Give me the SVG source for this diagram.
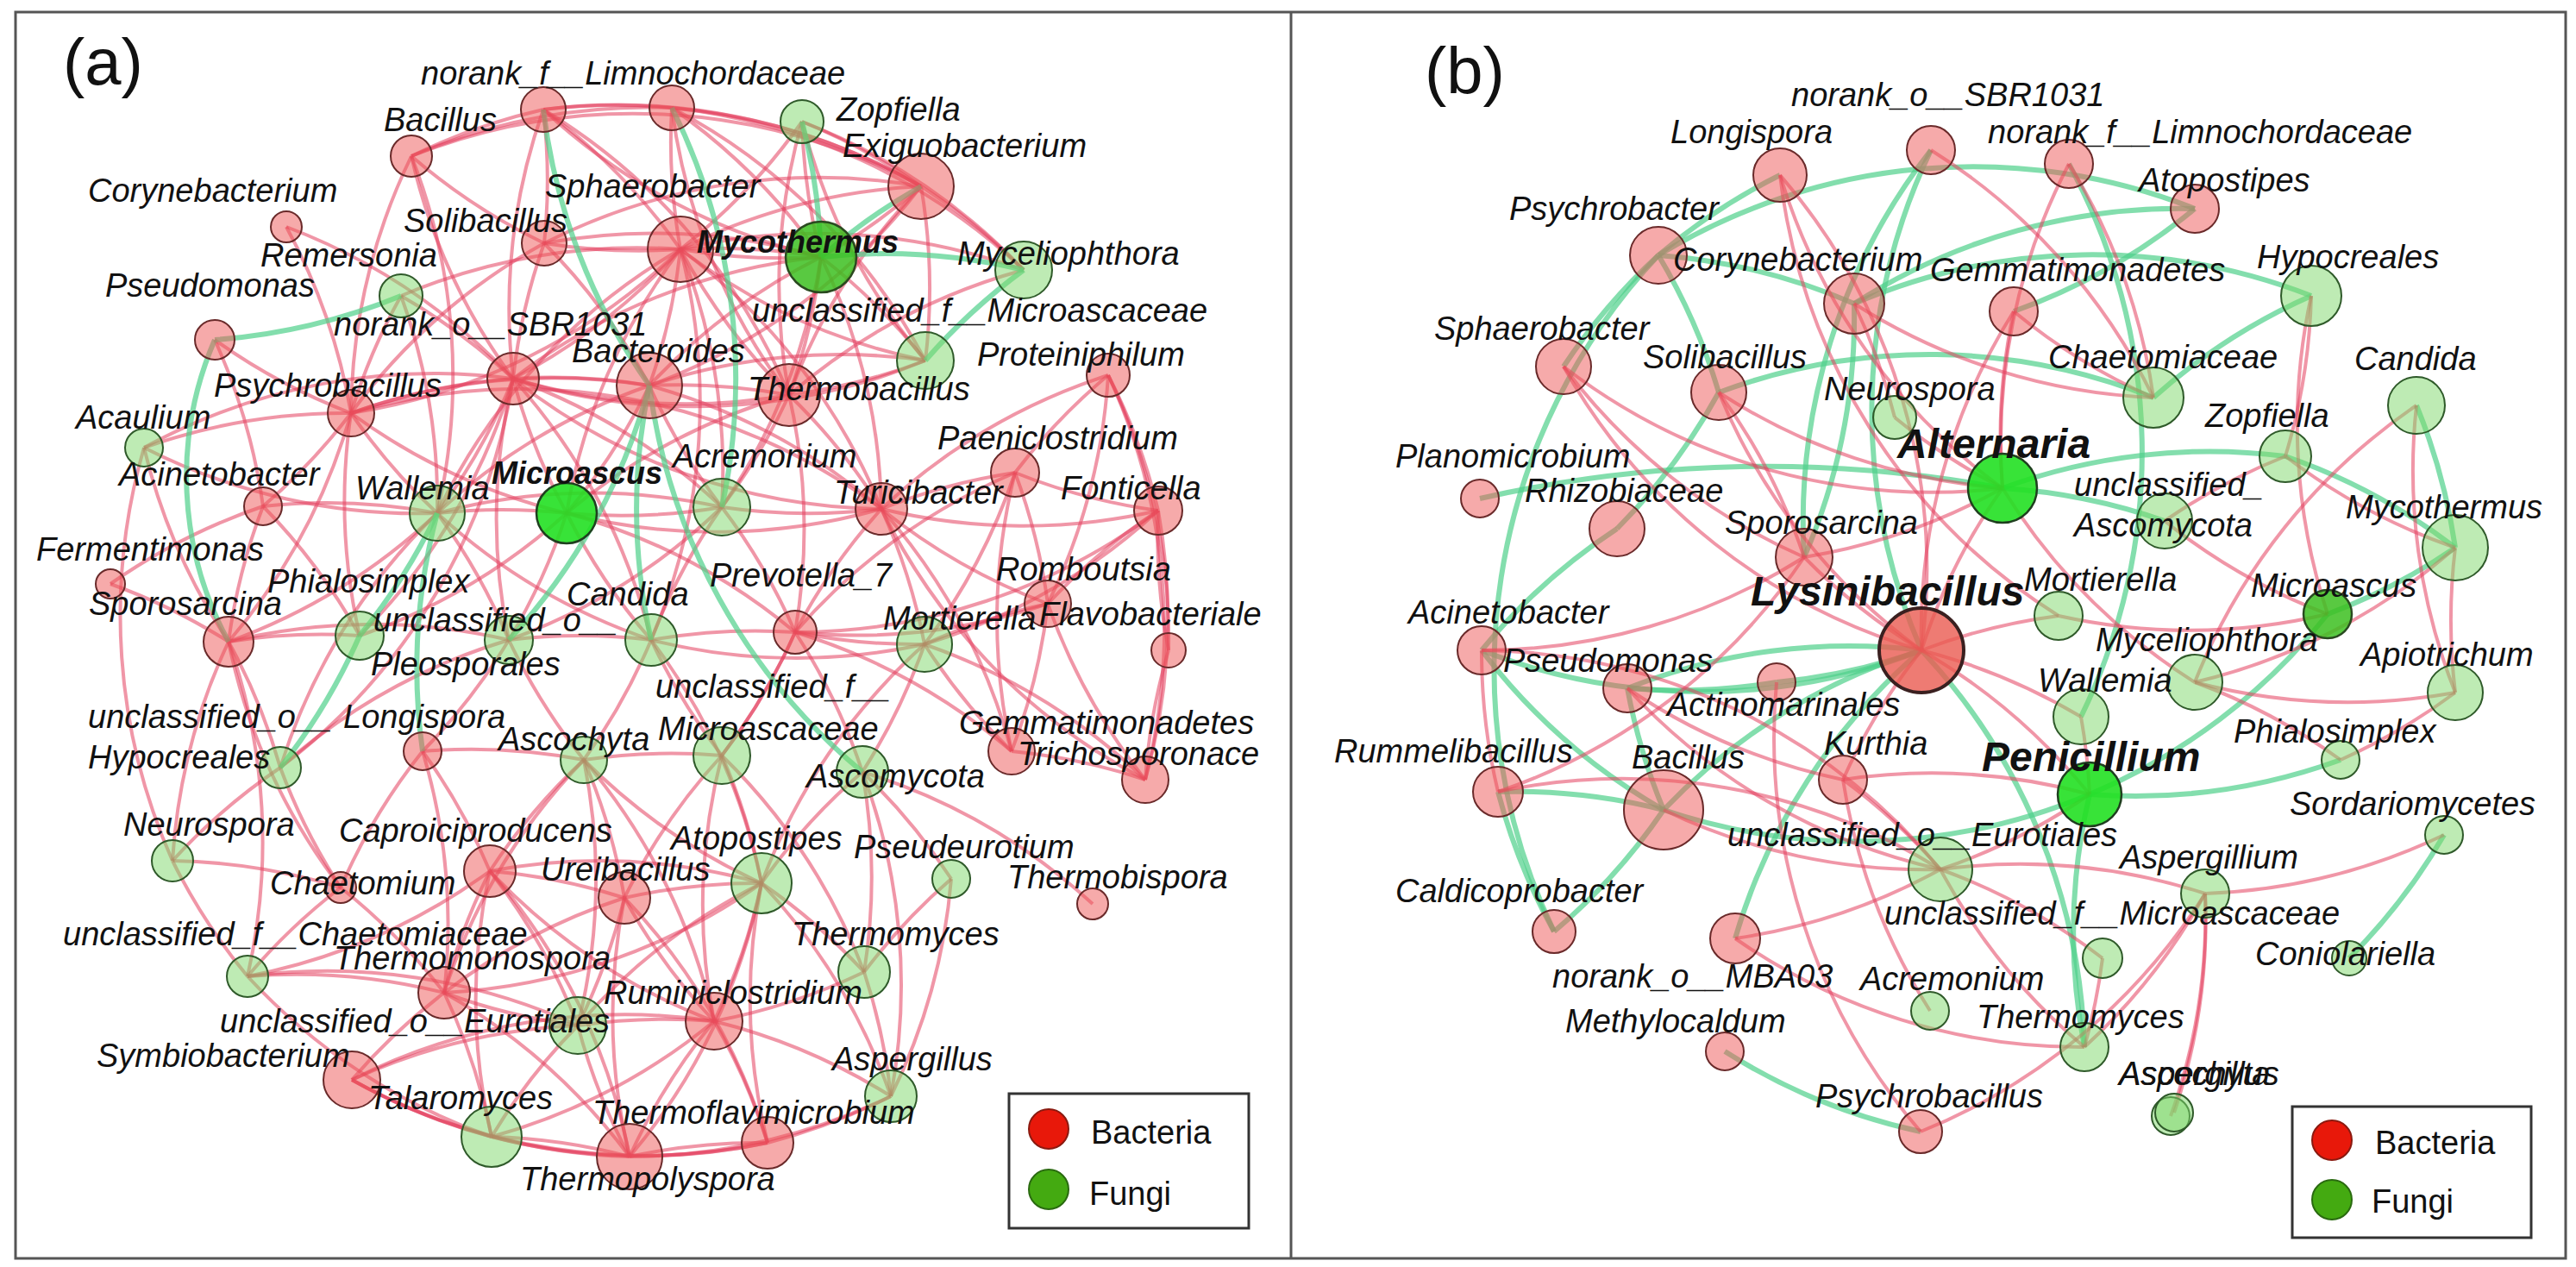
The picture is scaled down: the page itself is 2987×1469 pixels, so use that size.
<svg xmlns="http://www.w3.org/2000/svg" width="2987" height="1469" viewBox="0 0 2987 1469">
<style>
.r{fill:none;stroke:#e3405f;stroke-opacity:.55;stroke-width:4}
.g{fill:none;stroke:#4fd08a;stroke-opacity:.7;stroke-width:6}
.nb{fill:#ee5555;fill-opacity:.5;stroke:#6a2a2a;stroke-width:2}
.nf{fill:#7dd86a;fill-opacity:.5;stroke:#2f5a2a;stroke-width:2}
.nd{fill:#3cc020;fill-opacity:.85;stroke:#2a4a20;stroke-width:2.5}
.ns{fill:#22e022;fill-opacity:.9;stroke:#1f3f1f;stroke-width:2.5}
.nl{fill:#ea5a50;fill-opacity:.8;stroke:#3a2020;stroke-width:4}
text{font-family:"Liberation Sans",Arial,sans-serif;fill:#111}
.t{font-size:38px;font-style:italic}
.tb{font-size:36px;font-style:italic;font-weight:bold}
.tB{font-size:48px;font-style:italic;font-weight:bold}
.tl{font-size:38px}
.tp{font-size:76px}
</style>
<rect x="0" y="0" width="2987" height="1469" fill="#fff"/>
<g id="frame" fill="none" stroke="#555" stroke-width="3">
<rect x="18" y="14" width="2957" height="1445"/>
<line x1="1497" y1="14" x2="1497" y2="1459"/>
</g>
<text class="tp" x="73" y="98">(a)</text>
<text class="tp" x="1652" y="108">(b)</text>
<g id="connectors">
<g id="edges-a">
<path class="r" d="M477 181A700 700 0 0 1 630 127"/>
<path class="r" d="M477 181A700 700 0 0 1 779 125"/>
<path class="r" d="M477 181A700 700 0 0 1 1068 216"/>
<path class="r" d="M477 181A700 700 0 0 0 631 282"/>
<path class="r" d="M477 181A700 700 0 0 0 595 439"/>
<path class="r" d="M477 181A700 700 0 0 0 407 479"/>
<path class="r" d="M477 181A700 700 0 0 1 507 595"/>
<path class="r" d="M332 263A700 700 0 0 1 407 479"/>
<path class="r" d="M332 263A700 700 0 0 1 595 439"/>
<path class="r" d="M249 394A700 700 0 0 1 305 587"/>
<path class="r" d="M249 394A700 700 0 0 0 407 479"/>
<path class="r" d="M465 343A700 700 0 0 0 407 479"/>
<path class="r" d="M465 343A700 700 0 0 1 507 595"/>
<path class="r" d="M465 343A700 700 0 0 1 595 439"/>
<path class="r" d="M465 343A700 700 0 0 1 789 289"/>
<path class="r" d="M407 479A700 700 0 0 0 167 519"/>
<path class="r" d="M407 479A700 700 0 0 1 305 587"/>
<path class="r" d="M407 479A700 700 0 0 0 507 595"/>
<path class="r" d="M407 479A700 700 0 0 1 595 439"/>
<path class="r" d="M407 479A700 700 0 0 0 657 595"/>
<path class="r" d="M407 479A700 700 0 0 1 265 744"/>
<path class="r" d="M407 479A700 700 0 0 0 417 737"/>
<path class="r" d="M407 479A700 700 0 0 1 1022 590"/>
<path class="r" d="M407 479A700 700 0 0 1 753 447"/>
<path class="r" d="M167 519A700 700 0 0 1 595 439"/>
<path class="r" d="M167 519A700 700 0 0 0 200 998"/>
<path class="r" d="M167 519A700 700 0 0 0 265 744"/>
<path class="r" d="M305 587A700 700 0 0 1 507 595"/>
<path class="r" d="M305 587A700 700 0 0 0 265 744"/>
<path class="r" d="M305 587A700 700 0 0 1 417 737"/>
<path class="r" d="M305 587A700 700 0 0 0 128 677"/>
<path class="r" d="M128 677A700 700 0 0 1 265 744"/>
<path class="r" d="M265 744A700 700 0 0 1 417 737"/>
<path class="r" d="M265 744A700 700 0 0 0 507 595"/>
<path class="r" d="M265 744A700 700 0 0 1 325 890"/>
<path class="r" d="M265 744A700 700 0 0 0 395 1029"/>
<path class="r" d="M265 744A700 700 0 0 0 200 998"/>
<path class="r" d="M265 744A700 700 0 0 1 287 1132"/>
<path class="r" d="M265 744A700 700 0 0 1 590 742"/>
<path class="r" d="M325 890A700 700 0 0 1 507 595"/>
<path class="r" d="M325 890A700 700 0 0 0 595 439"/>
<path class="r" d="M325 890A700 700 0 0 0 395 1029"/>
<path class="r" d="M200 998A700 700 0 0 1 325 890"/>
<path class="r" d="M200 998A700 700 0 0 1 395 1029"/>
<path class="r" d="M200 998A700 700 0 0 0 287 1132"/>
<path class="r" d="M287 1132A700 700 0 0 1 515 1151"/>
<path class="r" d="M287 1132A700 700 0 0 0 568 1010"/>
<path class="r" d="M408 1252A700 700 0 0 1 515 1151"/>
<path class="r" d="M408 1252A700 700 0 0 0 570 1318"/>
<path class="r" d="M408 1252A700 700 0 0 0 730 1341"/>
<path class="r" d="M408 1252A700 700 0 0 0 890 1325"/>
<path class="r" d="M408 1252A700 700 0 0 1 670 1189"/>
<path class="r" d="M408 1252A700 700 0 0 1 828 1184"/>
<path class="r" d="M677 881A700 700 0 0 0 568 1010"/>
<path class="r" d="M677 881A700 700 0 0 1 724 1041"/>
<path class="r" d="M677 881A700 700 0 0 0 515 1151"/>
<path class="r" d="M677 881A700 700 0 0 1 670 1189"/>
<path class="r" d="M677 881A700 700 0 0 0 490 871"/>
<path class="r" d="M677 881A700 700 0 0 1 837 876"/>
<path class="r" d="M677 881A700 700 0 0 1 828 1184"/>
<path class="r" d="M837 876A700 700 0 0 1 883 1024"/>
<path class="r" d="M837 876A700 700 0 0 0 828 1184"/>
<path class="r" d="M837 876A700 700 0 0 1 1002 1127"/>
<path class="r" d="M837 876A700 700 0 0 0 724 1041"/>
<path class="r" d="M837 876A700 700 0 0 0 922 733"/>
<path class="r" d="M568 1010A700 700 0 0 1 724 1041"/>
<path class="r" d="M568 1010A700 700 0 0 0 515 1151"/>
<path class="r" d="M568 1010A700 700 0 0 1 670 1189"/>
<path class="r" d="M568 1010A700 700 0 0 1 883 1024"/>
<path class="r" d="M568 1010A700 700 0 0 0 570 1318"/>
<path class="r" d="M568 1010A700 700 0 0 0 828 1184"/>
<path class="r" d="M568 1010A700 700 0 0 1 730 1341"/>
<path class="r" d="M724 1041A700 700 0 0 1 883 1024"/>
<path class="r" d="M724 1041A700 700 0 0 0 828 1184"/>
<path class="r" d="M724 1041A700 700 0 0 1 670 1189"/>
<path class="r" d="M724 1041A700 700 0 0 0 730 1341"/>
<path class="r" d="M724 1041A700 700 0 0 1 890 1325"/>
<path class="r" d="M724 1041A700 700 0 0 0 515 1151"/>
<path class="r" d="M883 1024A700 700 0 0 1 828 1184"/>
<path class="r" d="M883 1024A700 700 0 0 1 730 1341"/>
<path class="r" d="M883 1024A700 700 0 0 0 890 1325"/>
<path class="r" d="M883 1024A700 700 0 0 1 1002 1127"/>
<path class="r" d="M883 1024A700 700 0 0 0 670 1189"/>
<path class="r" d="M883 1024A700 700 0 0 1 1033 1271"/>
<path class="r" d="M883 1024A700 700 0 0 1 515 1151"/>
<path class="r" d="M828 1184A700 700 0 0 0 730 1341"/>
<path class="r" d="M828 1184A700 700 0 0 1 890 1325"/>
<path class="r" d="M828 1184A700 700 0 0 1 570 1318"/>
<path class="r" d="M828 1184A700 700 0 0 0 670 1189"/>
<path class="r" d="M828 1184A700 700 0 0 1 1033 1271"/>
<path class="r" d="M828 1184A700 700 0 0 0 1002 1127"/>
<path class="r" d="M730 1341A700 700 0 0 0 570 1318"/>
<path class="r" d="M730 1341A700 700 0 0 1 890 1325"/>
<path class="r" d="M730 1341A700 700 0 0 1 670 1189"/>
<path class="r" d="M730 1341A700 700 0 0 0 515 1151"/>
<path class="r" d="M570 1318A700 700 0 0 1 670 1189"/>
<path class="r" d="M570 1318A700 700 0 0 0 515 1151"/>
<path class="r" d="M570 1318A700 700 0 0 0 890 1325"/>
<path class="r" d="M1002 1127A700 700 0 0 1 1033 1271"/>
<path class="r" d="M1002 1127A700 700 0 0 0 1000 895"/>
<path class="r" d="M1033 1271A700 700 0 0 0 1000 895"/>
<path class="r" d="M1002 1127A700 700 0 0 1 1103 1019"/>
<path class="r" d="M1033 1271A700 700 0 0 0 1103 1019"/>
<path class="r" d="M1000 895A700 700 0 0 1 1267 1048"/>
<path class="r" d="M1000 895A700 700 0 0 1 1103 1019"/>
<path class="r" d="M1173 871A700 700 0 0 1 1328 904"/>
<path class="r" d="M1173 871A700 700 0 0 0 1215 700"/>
<path class="r" d="M1328 904A700 700 0 0 1 1215 700"/>
<path class="r" d="M1328 904A700 700 0 0 0 1343 592"/>
<path class="r" d="M1173 871A700 700 0 0 0 1022 590"/>
<path class="r" d="M1328 904A700 700 0 0 1 1022 590"/>
<path class="r" d="M1173 871A700 700 0 0 1 1177 548"/>
<path class="r" d="M1328 904A700 700 0 0 0 1285 435"/>
<path class="r" d="M1173 871A700 700 0 0 1 1072 747"/>
<path class="r" d="M1173 871A700 700 0 0 0 922 733"/>
<path class="r" d="M1355 754A700 700 0 0 0 1328 904"/>
<path class="r" d="M1285 435A700 700 0 0 0 1177 548"/>
<path class="r" d="M1285 435A700 700 0 0 1 1343 592"/>
<path class="r" d="M1285 435A700 700 0 0 1 1215 700"/>
<path class="r" d="M1285 435A700 700 0 0 0 1022 590"/>
<path class="r" d="M1285 435A700 700 0 0 1 1355 754"/>
<path class="r" d="M1177 548A700 700 0 0 0 1022 590"/>
<path class="r" d="M1177 548A700 700 0 0 0 1343 592"/>
<path class="r" d="M1177 548A700 700 0 0 1 1215 700"/>
<path class="r" d="M1177 548A700 700 0 0 0 922 733"/>
<path class="r" d="M1177 548A700 700 0 0 1 1072 747"/>
<path class="r" d="M1343 592A700 700 0 0 1 1022 590"/>
<path class="r" d="M1343 592A700 700 0 0 0 1215 700"/>
<path class="r" d="M1343 592A700 700 0 0 1 922 733"/>
<path class="r" d="M1343 592A700 700 0 0 0 1355 754"/>
<path class="r" d="M1215 700A700 700 0 0 1 1022 590"/>
<path class="r" d="M1215 700A700 700 0 0 1 922 733"/>
<path class="r" d="M1215 700A700 700 0 0 0 1072 747"/>
<path class="r" d="M1022 590A700 700 0 0 0 922 733"/>
<path class="r" d="M1022 590A700 700 0 0 1 1072 747"/>
<path class="r" d="M1022 590A700 700 0 0 0 915 458"/>
<path class="r" d="M1022 590A700 700 0 0 1 837 588"/>
<path class="r" d="M1022 590A700 700 0 0 0 789 289"/>
<path class="r" d="M1068 216A700 700 0 0 1 952 298"/>
<path class="r" d="M1068 216A700 700 0 0 0 789 289"/>
<path class="r" d="M1068 216A700 700 0 0 0 930 141"/>
<path class="r" d="M1068 216A700 700 0 0 1 1187 313"/>
<path class="r" d="M1068 216A700 700 0 0 1 1073 418"/>
<path class="r" d="M1068 216A700 700 0 0 0 915 458"/>
<path class="r" d="M1068 216A700 700 0 0 0 779 125"/>
<path class="r" d="M1068 216A700 700 0 0 0 630 127"/>
<path class="r" d="M1068 216A700 700 0 0 1 753 447"/>
<path class="r" d="M1068 216A700 700 0 0 0 631 282"/>
<path class="r" d="M1187 313A700 700 0 0 0 915 458"/>
<path class="r" d="M1187 313A700 700 0 0 0 789 289"/>
<path class="r" d="M1187 313A700 700 0 0 0 779 125"/>
<path class="r" d="M1073 418A700 700 0 0 0 952 298"/>
<path class="r" d="M1073 418A700 700 0 0 1 789 289"/>
<path class="r" d="M1073 418A700 700 0 0 1 915 458"/>
<path class="r" d="M1073 418A700 700 0 0 0 753 447"/>
<path class="r" d="M1073 418A700 700 0 0 1 595 439"/>
<path class="r" d="M630 127A700 700 0 0 1 779 125"/>
<path class="r" d="M630 127A700 700 0 0 1 631 282"/>
<path class="r" d="M630 127A700 700 0 0 1 789 289"/>
<path class="r" d="M630 127A700 700 0 0 0 952 298"/>
<path class="r" d="M630 127A700 700 0 0 1 915 458"/>
<path class="r" d="M630 127A700 700 0 0 0 595 439"/>
<path class="r" d="M779 125A700 700 0 0 0 789 289"/>
<path class="r" d="M779 125A700 700 0 0 1 952 298"/>
<path class="r" d="M779 125A700 700 0 0 0 915 458"/>
<path class="r" d="M779 125A700 700 0 0 1 1073 418"/>
<path class="r" d="M930 141A700 700 0 0 0 952 298"/>
<path class="r" d="M930 141A700 700 0 0 1 789 289"/>
<path class="r" d="M930 141A700 700 0 0 1 1187 313"/>
<path class="r" d="M930 141A700 700 0 0 0 1073 418"/>
<path class="r" d="M930 141A700 700 0 0 0 915 458"/>
<path class="r" d="M631 282A700 700 0 0 0 789 289"/>
<path class="r" d="M631 282A700 700 0 0 1 952 298"/>
<path class="r" d="M631 282A700 700 0 0 0 595 439"/>
<path class="r" d="M631 282A700 700 0 0 1 753 447"/>
<path class="r" d="M631 282A700 700 0 0 0 407 479"/>
<path class="r" d="M789 289A700 700 0 0 1 952 298"/>
<path class="r" d="M789 289A700 700 0 0 0 952 298"/>
<path class="r" d="M789 289A700 700 0 0 1 753 447"/>
<path class="r" d="M789 289A700 700 0 0 0 915 458"/>
<path class="r" d="M789 289A700 700 0 0 1 595 439"/>
<path class="r" d="M789 289A700 700 0 0 1 837 588"/>
<path class="r" d="M789 289A700 700 0 0 0 657 595"/>
<path class="r" d="M789 289A700 700 0 0 0 507 595"/>
<path class="r" d="M789 289A700 700 0 0 1 407 479"/>
<path class="r" d="M789 289A700 700 0 0 1 755 742"/>
<path class="r" d="M952 298A700 700 0 0 1 915 458"/>
<path class="r" d="M952 298A700 700 0 0 0 753 447"/>
<path class="r" d="M952 298A700 700 0 0 0 595 439"/>
<path class="r" d="M952 298A700 700 0 0 1 837 588"/>
<path class="r" d="M952 298A700 700 0 0 1 1022 590"/>
<path class="r" d="M753 447A700 700 0 0 0 595 439"/>
<path class="r" d="M753 447A700 700 0 0 1 915 458"/>
<path class="r" d="M753 447A700 700 0 0 0 837 588"/>
<path class="r" d="M753 447A700 700 0 0 1 657 595"/>
<path class="r" d="M753 447A700 700 0 0 0 507 595"/>
<path class="r" d="M753 447A700 700 0 0 1 1022 590"/>
<path class="r" d="M595 439A700 700 0 0 1 507 595"/>
<path class="r" d="M595 439A700 700 0 0 0 657 595"/>
<path class="r" d="M595 439A700 700 0 0 1 837 588"/>
<path class="r" d="M595 439A700 700 0 0 0 915 458"/>
<path class="r" d="M595 439A700 700 0 0 1 417 737"/>
<path class="r" d="M595 439A700 700 0 0 0 590 742"/>
<path class="r" d="M595 439A700 700 0 0 1 755 742"/>
<path class="r" d="M595 439A700 700 0 0 0 1022 590"/>
<path class="r" d="M915 458A700 700 0 0 1 837 588"/>
<path class="r" d="M915 458A700 700 0 0 0 657 595"/>
<path class="r" d="M915 458A700 700 0 0 1 922 733"/>
<path class="r" d="M837 588A700 700 0 0 1 657 595"/>
<path class="r" d="M837 588A700 700 0 0 0 755 742"/>
<path class="r" d="M837 588A700 700 0 0 1 922 733"/>
<path class="r" d="M837 588A700 700 0 0 0 507 595"/>
<path class="r" d="M837 588A700 700 0 0 1 590 742"/>
<path class="r" d="M657 595A700 700 0 0 0 507 595"/>
<path class="r" d="M657 595A700 700 0 0 1 590 742"/>
<path class="r" d="M657 595A700 700 0 0 0 755 742"/>
<path class="r" d="M657 595A700 700 0 0 1 417 737"/>
<path class="r" d="M657 595A700 700 0 0 0 1022 590"/>
<path class="r" d="M657 595A700 700 0 0 1 922 733"/>
<path class="r" d="M507 595A700 700 0 0 1 590 742"/>
<path class="r" d="M507 595A700 700 0 0 0 755 742"/>
<path class="r" d="M507 595A700 700 0 0 1 167 519"/>
<path class="r" d="M755 742A700 700 0 0 0 590 742"/>
<path class="r" d="M755 742A700 700 0 0 1 922 733"/>
<path class="r" d="M755 742A700 700 0 0 0 1072 747"/>
<path class="r" d="M755 742A700 700 0 0 1 677 881"/>
<path class="r" d="M590 742A700 700 0 0 0 677 881"/>
<path class="r" d="M590 742A700 700 0 0 1 490 871"/>
<path class="r" d="M590 742A700 700 0 0 0 325 890"/>
<path class="r" d="M922 733A700 700 0 0 0 1072 747"/>
<path class="r" d="M922 733A700 700 0 0 1 837 876"/>
<path class="r" d="M755 742A700 700 0 0 0 837 876"/>
<path class="r" d="M1072 747A700 700 0 0 1 1000 895"/>
<path class="r" d="M1072 747A700 700 0 0 0 883 1024"/>
<path class="r" d="M1072 747A700 700 0 0 1 1328 904"/>
<path class="r" d="M1072 747A700 700 0 0 0 1343 592"/>
<path class="r" d="M490 871A700 700 0 0 0 395 1029"/>
<path class="r" d="M490 871A700 700 0 0 1 568 1010"/>
<path class="r" d="M490 871A700 700 0 0 1 515 1151"/>
<path class="r" d="M395 1029A700 700 0 0 0 287 1132"/>
<path class="r" d="M395 1029A700 700 0 0 1 515 1151"/>
<path class="r" d="M287 1132A700 700 0 0 0 570 1318"/>
<path class="r" d="M670 1189A700 700 0 0 1 515 1151"/>
<path class="r" d="M670 1189A700 700 0 0 0 287 1132"/>
<path class="r" d="M677 881A700 700 0 0 0 883 1024"/>
<path class="r" d="M890 1325A700 700 0 0 0 1033 1271"/>
<path class="r" d="M730 1341A700 700 0 0 0 1033 1271"/>
<path class="r" d="M755 742A700 700 0 0 1 883 1024"/>
<path class="r" d="M922 733A700 700 0 0 1 1000 895"/>
<path class="r" d="M1000 895A700 700 0 0 0 883 1024"/>
<path class="g" d="M249 394A700 700 0 0 0 465 343"/>
<path class="g" d="M249 394A400 400 0 0 0 265 744"/>
<path class="g" d="M630 127A700 700 0 0 0 753 447"/>
<path class="g" d="M779 125A700 700 0 0 1 837 588"/>
<path class="g" d="M952 298A700 700 0 0 1 1187 313"/>
<path class="g" d="M1073 418A700 700 0 0 1 1187 313"/>
<path class="g" d="M507 595A700 700 0 0 1 417 737"/>
<path class="g" d="M507 595A700 700 0 0 0 490 871"/>
<path class="g" d="M417 737A700 700 0 0 1 325 890"/>
<path class="g" d="M753 447A700 700 0 0 0 755 742"/>
<path class="g" d="M590 742A700 700 0 0 0 753 447"/>
<path class="g" d="M753 447A700 700 0 0 0 1000 895"/>
<path class="g" d="M930 141A700 700 0 0 1 952 298"/>
<path class="g" d="M1068 216A700 700 0 0 0 952 298"/>
</g>
<g id="edges-b">
<path class="g" d="M1923 296A700 700 0 0 1 2064 203"/>
<path class="g" d="M1923 296A700 700 0 0 1 2545 242"/>
<path class="g" d="M1923 296A700 700 0 0 1 2150 352"/>
<path class="g" d="M1923 296A700 700 0 0 1 1993 455"/>
<path class="g" d="M1923 296A700 700 0 0 0 1813 425"/>
<path class="g" d="M1923 296A700 700 0 0 0 1802 1080"/>
<path class="g" d="M1993 455A700 700 0 0 1 1875 613"/>
<path class="g" d="M1875 613A700 700 0 0 0 1718 754"/>
<path class="g" d="M1716 578A1500 1500 0 0 1 2322 566"/>
<path class="g" d="M2239 174A700 700 0 0 0 2092 646"/>
<path class="g" d="M2239 174A700 700 0 0 0 2228 754"/>
<path class="g" d="M2399 190A700 700 0 0 1 2413 831"/>
<path class="g" d="M2545 242A700 700 0 0 0 2150 352"/>
<path class="g" d="M2545 242A700 700 0 0 1 2335 361"/>
<path class="g" d="M2150 352A700 700 0 0 1 2092 646"/>
<path class="g" d="M2150 352A700 700 0 0 1 2680 343"/>
<path class="g" d="M2680 343A700 700 0 0 0 2497 461"/>
<path class="g" d="M1993 455A700 700 0 0 1 2497 461"/>
<path class="g" d="M2322 566A700 700 0 0 1 2510 604"/>
<path class="g" d="M2322 566A700 700 0 0 1 2650 529"/>
<path class="g" d="M2650 529A700 700 0 0 1 2847 635"/>
<path class="g" d="M2802 470A700 700 0 0 1 2847 635"/>
<path class="g" d="M2847 635A700 700 0 0 1 2699 712"/>
<path class="g" d="M2228 754A700 700 0 0 1 2417 1214"/>
<path class="g" d="M2228 754A700 700 0 0 0 1929 939"/>
<path class="g" d="M2228 754A700 700 0 0 1 2060 791"/>
<path class="g" d="M2228 754A700 700 0 0 0 2012 1088"/>
<path class="g" d="M2228 754A700 700 0 0 1 1718 754"/>
<path class="g" d="M2228 754A700 700 0 0 0 1887 798"/>
<path class="g" d="M2423 921A700 700 0 0 0 2714 881"/>
<path class="g" d="M2423 921A700 700 0 0 0 2417 1214"/>
<path class="g" d="M2423 921A700 700 0 0 1 1929 939"/>
<path class="g" d="M2423 921A700 700 0 0 0 2699 712"/>
<path class="g" d="M2000 1219A700 700 0 0 0 2227 1312"/>
<path class="g" d="M1802 1080A700 700 0 0 1 1737 918"/>
<path class="g" d="M1802 1080A700 700 0 0 0 1929 939"/>
<path class="g" d="M1737 918A700 700 0 0 1 1929 939"/>
<path class="g" d="M1718 754A700 700 0 0 0 1929 939"/>
<path class="g" d="M1887 798A700 700 0 0 0 2060 791"/>
<path class="g" d="M1887 798A700 700 0 0 0 1929 939"/>
<path class="g" d="M2834 968A700 700 0 0 1 2724 1111"/>
<path class="r" d="M2064 203A700 700 0 0 1 2228 754"/>
<path class="r" d="M2064 203A700 700 0 0 0 2322 566"/>
<path class="r" d="M2064 203A700 700 0 0 0 2387 714"/>
<path class="r" d="M2239 174A700 700 0 0 1 2497 461"/>
<path class="r" d="M2399 190A700 700 0 0 0 2322 566"/>
<path class="r" d="M2399 190A700 700 0 0 1 2497 461"/>
<path class="r" d="M2335 361A700 700 0 0 0 2497 461"/>
<path class="r" d="M2335 361A700 700 0 0 0 2322 566"/>
<path class="r" d="M2335 361A700 700 0 0 0 2228 754"/>
<path class="r" d="M2150 352A700 700 0 0 0 2497 461"/>
<path class="r" d="M2680 343A700 700 0 0 0 2699 712"/>
<path class="r" d="M2680 343A700 700 0 0 1 2650 529"/>
<path class="r" d="M2802 470A700 700 0 0 0 2545 791"/>
<path class="r" d="M2802 470A700 700 0 0 0 2847 803"/>
<path class="r" d="M2650 529A700 700 0 0 0 2847 635"/>
<path class="r" d="M2650 529A700 700 0 0 0 2510 604"/>
<path class="r" d="M2847 635A700 700 0 0 1 2545 791"/>
<path class="r" d="M2847 635A700 700 0 0 0 2847 803"/>
<path class="r" d="M1813 425A700 700 0 0 0 2322 566"/>
<path class="r" d="M1813 425A700 700 0 0 0 2228 754"/>
<path class="r" d="M1813 425A700 700 0 0 0 2092 646"/>
<path class="r" d="M2322 566A700 700 0 0 0 2228 754"/>
<path class="r" d="M2322 566A700 700 0 0 1 2092 646"/>
<path class="r" d="M2322 566A700 700 0 0 0 2545 791"/>
<path class="r" d="M2322 566A700 700 0 0 1 2197 484"/>
<path class="r" d="M1993 455A700 700 0 0 0 2322 566"/>
<path class="r" d="M1993 455A700 700 0 0 0 2228 754"/>
<path class="r" d="M1993 455A700 700 0 0 1 2092 646"/>
<path class="r" d="M2228 754A700 700 0 0 1 2092 646"/>
<path class="r" d="M2228 754A700 700 0 0 0 2137 904"/>
<path class="r" d="M2228 754A700 700 0 0 1 2423 921"/>
<path class="r" d="M2228 754A700 700 0 0 1 2413 831"/>
<path class="r" d="M2423 921A700 700 0 0 0 2413 831"/>
<path class="r" d="M2423 921A700 700 0 0 1 2250 1008"/>
<path class="r" d="M2423 921A700 700 0 0 0 2137 904"/>
<path class="r" d="M2545 791A700 700 0 0 0 2847 803"/>
<path class="r" d="M2545 791A700 700 0 0 1 2714 881"/>
<path class="r" d="M2847 803A700 700 0 0 1 2714 881"/>
<path class="r" d="M2834 968A700 700 0 0 1 2557 1036"/>
<path class="r" d="M2557 1036A700 700 0 0 0 2250 1008"/>
<path class="r" d="M2557 1036A700 700 0 0 1 2417 1214"/>
<path class="r" d="M2557 1036A700 700 0 0 1 2521 1290"/>
<path class="r" d="M2250 1008A700 700 0 0 0 1737 918"/>
<path class="r" d="M2250 1008A700 700 0 0 0 1718 754"/>
<path class="r" d="M2250 1008A700 700 0 0 1 1887 798"/>
<path class="r" d="M2250 1008A700 700 0 0 1 1929 939"/>
<path class="r" d="M2250 1008A700 700 0 0 0 2137 904"/>
<path class="r" d="M2250 1008A700 700 0 0 1 2438 1111"/>
<path class="r" d="M2250 1008A700 700 0 0 0 2417 1214"/>
<path class="r" d="M2250 1008A700 700 0 0 1 2012 1088"/>
<path class="r" d="M2238 1172A700 700 0 0 1 2137 904"/>
<path class="r" d="M2417 1214A700 700 0 0 1 2012 1088"/>
<path class="r" d="M2227 1312A700 700 0 0 0 2557 1036"/>
<path class="r" d="M1737 918A700 700 0 0 1 1718 754"/>
<path class="r" d="M1737 918A700 700 0 0 0 2092 646"/>
<path class="r" d="M1718 754A700 700 0 0 0 2092 646"/>
<path class="r" d="M1887 798A700 700 0 0 0 2137 904"/>
<path class="r" d="M2060 791A700 700 0 0 0 2227 1312"/>
<path class="r" d="M2510 604A700 700 0 0 0 2699 712"/>
<path class="r" d="M2699 712A700 700 0 0 1 2387 714"/>
<path class="r" d="M2387 714A700 700 0 0 0 2228 754"/>
<path class="r" d="M2197 484A700 700 0 0 0 2150 352"/>
<path class="r" d="M2438 1111A700 700 0 0 1 2417 1214"/>
<path class="r" d="M2517 1294A700 700 0 0 0 2557 1036"/>
</g>
</g>
<g id="nodes-a">
<g id="a-limno1"><circle class="nb" cx="630" cy="127" r="26"/><text class="t" x="488" y="98">norank_f__Limnochordaceae</text></g>
<g id="a-limno2"><circle class="nb" cx="779" cy="125" r="26"/></g>
<g id="a-bacillus"><circle class="nb" cx="477" cy="181" r="24"/><text class="t" x="445" y="152">Bacillus</text></g>
<g id="a-zopfiella"><circle class="nf" cx="930" cy="141" r="25"/><text class="t" x="970" y="140">Zopfiella</text></g>
<g id="a-exiguobacterium"><circle class="nb" cx="1068" cy="216" r="38"/><text class="t" x="977" y="182">Exiguobacterium</text></g>
<g id="a-corynebacterium"><circle class="nb" cx="332" cy="263" r="18"/><text class="t" x="102" y="234">Corynebacterium</text></g>
<g id="a-solibacillus"><circle class="nb" cx="631" cy="282" r="26"/><text class="t" x="468" y="269">Solibacillus</text></g>
<g id="a-sphaerobacter"><circle class="nb" cx="789" cy="289" r="38"/><text class="t" x="632" y="229">Sphaerobacter</text></g>
<g id="a-remersonia"><circle class="nf" cx="465" cy="343" r="25"/><text class="t" x="302" y="309">Remersonia</text></g>
<g id="a-mycothermus"><circle class="nd" cx="952" cy="298" r="41"/><text class="tb" x="808" y="293">Mycothermus</text></g>
<g id="a-myceliophthora"><circle class="nf" cx="1187" cy="313" r="33"/><text class="t" x="1110" y="307">Myceliophthora</text></g>
<g id="a-pseudomonas"><circle class="nb" cx="249" cy="394" r="23"/><text class="t" x="122" y="344">Pseudomonas</text></g>
<g id="a-sbr1031"><circle class="nb" cx="595" cy="439" r="30"/><text class="t" x="387" y="389">norank_o__SBR1031</text></g>
<g id="a-microascaceae1"><circle class="nf" cx="1073" cy="418" r="33"/><text class="t" x="872" y="373">unclassified_f__Microascaceae</text></g>
<g id="a-bacteroides"><circle class="nb" cx="753" cy="447" r="38"/><text class="t" x="663" y="420">Bacteroides</text></g>
<g id="a-proteiniphilum"><circle class="nb" cx="1285" cy="435" r="25"/><text class="t" x="1133" y="424">Proteiniphilum</text></g>
<g id="a-psychrobacillus"><circle class="nb" cx="407" cy="479" r="27"/><text class="t" x="248" y="460">Psychrobacillus</text></g>
<g id="a-thermobacillus"><circle class="nb" cx="915" cy="458" r="36"/><text class="t" x="867" y="464">Thermobacillus</text></g>
<g id="a-acaulium"><circle class="nf" cx="167" cy="519" r="22"/><text class="t" x="88" y="497">Acaulium</text></g>
<g id="a-paeniclostridium"><circle class="nb" cx="1177" cy="548" r="28"/><text class="t" x="1087" y="521">Paeniclostridium</text></g>
<g id="a-acremonium"><circle class="nf" cx="837" cy="588" r="33"/><text class="t" x="780" y="542">Acremonium</text></g>
<g id="a-acinetobacter"><circle class="nb" cx="305" cy="587" r="22"/><text class="t" x="138" y="563">Acinetobacter</text></g>
<g id="a-microascus"><circle class="ns" cx="657" cy="595" r="35"/><text class="tb" x="570" y="561">Microascus</text></g>
<g id="a-wallemia"><circle class="nf" cx="507" cy="595" r="32"/><text class="t" x="412" y="579">Wallemia</text></g>
<g id="a-turicibacter"><circle class="nb" cx="1022" cy="590" r="30"/><text class="t" x="967" y="584">Turicibacter</text></g>
<g id="a-fonticella"><circle class="nb" cx="1343" cy="592" r="28"/><text class="t" x="1230" y="579">Fonticella</text></g>
<g id="a-fermentimonas"><circle class="nb" cx="128" cy="677" r="17"/><text class="t" x="42" y="650">Fermentimonas</text></g>
<g id="a-romboutsia"><circle class="nb" cx="1215" cy="700" r="27"/><text class="t" x="1155" y="673">Romboutsia</text></g>
<g id="a-prevotella"><circle class="nb" cx="922" cy="733" r="25"/><text class="t" x="823" y="680">Prevotella_7</text></g>
<g id="a-phialosimplex"><circle class="nf" cx="417" cy="737" r="28"/><text class="t" x="310" y="687">Phialosimplex</text></g>
<g id="a-candida"><circle class="nf" cx="755" cy="742" r="30"/><text class="t" x="657" y="702">Candida</text></g>
<g id="a-sporosarcina"><circle class="nb" cx="265" cy="744" r="29"/><text class="t" x="103" y="713">Sporosarcina</text></g>
<g id="a-flavobacteriale"><circle class="nb" cx="1355" cy="754" r="20"/><text class="t" x="1205" y="725">Flavobacteriale</text></g>
<g id="a-mortierella"><circle class="nf" cx="1072" cy="747" r="32"/><text class="t" x="1024" y="730">Mortierella</text></g>
<g id="a-pleosporales"><circle class="nf" cx="590" cy="742" r="28"/><text class="t" x="433" y="732">unclassified_o__</text><text class="t" x="430" y="783">Pleosporales</text></g>
<g id="a-microascaceae2"><circle class="nf" cx="837" cy="876" r="33"/><text class="t" x="760" y="809">unclassified_f__</text><text class="t" x="763" y="858">Microascaceae</text></g>
<g id="a-hypocreales"><circle class="nf" cx="325" cy="890" r="24"/><text class="t" x="102" y="844">unclassified_o__</text><text class="t" x="102" y="891">Hypocreales</text></g>
<g id="a-longispora"><circle class="nb" cx="490" cy="871" r="22"/><text class="t" x="398" y="844">Longispora</text></g>
<g id="a-ascochyta"><circle class="nf" cx="677" cy="881" r="27"/><text class="t" x="578" y="870">Ascochyta</text></g>
<g id="a-gemmatimonadetes"><circle class="nb" cx="1173" cy="871" r="27"/><text class="t" x="1112" y="851">Gemmatimonadetes</text></g>
<g id="a-trichosporonace"><circle class="nb" cx="1328" cy="904" r="27"/><text class="t" x="1180" y="887">Trichosporonace</text></g>
<g id="a-ascomycota"><circle class="nf" cx="1000" cy="895" r="30"/><text class="t" x="935" y="913">Ascomycota</text></g>
<g id="a-neurospora"><circle class="nf" cx="200" cy="998" r="24"/><text class="t" x="143" y="969">Neurospora</text></g>
<g id="a-caproiciproducens"><circle class="nb" cx="568" cy="1010" r="30"/><text class="t" x="393" y="976">Caproiciproducens</text></g>
<g id="a-atopostipes"><circle class="nf" cx="883" cy="1024" r="35"/><text class="t" x="778" y="985">Atopostipes</text></g>
<g id="a-pseudeurotium"><circle class="nf" cx="1103" cy="1019" r="22"/><text class="t" x="990" y="995">Pseudeurotium</text></g>
<g id="a-ureibacillus"><circle class="nb" cx="724" cy="1041" r="30"/><text class="t" x="627" y="1021">Ureibacillus</text></g>
<g id="a-thermobispora"><circle class="nb" cx="1267" cy="1048" r="18"/><text class="t" x="1168" y="1030">Thermobispora</text></g>
<g id="a-chaetomium"><circle class="nb" cx="395" cy="1029" r="18"/><text class="t" x="313" y="1037">Chaetomium</text></g>
<g id="a-chaetomiaceae"><circle class="nf" cx="287" cy="1132" r="24"/><text class="t" x="73" y="1096">unclassified_f__Chaetomiaceae</text></g>
<g id="a-thermomyces"><circle class="nf" cx="1002" cy="1127" r="30"/><text class="t" x="918" y="1096">Thermomyces</text></g>
<g id="a-thermomonospora"><circle class="nb" cx="515" cy="1151" r="30"/><text class="t" x="387" y="1124">Thermomonospora</text></g>
<g id="a-ruminiclostridium"><circle class="nb" cx="828" cy="1184" r="33"/><text class="t" x="700" y="1164">Ruminiclostridium</text></g>
<g id="a-eurotiales"><circle class="nf" cx="670" cy="1189" r="33"/><text class="t" x="255" y="1197">unclassified_o__Eurotiales</text></g>
<g id="a-symbiobacterium"><circle class="nb" cx="408" cy="1252" r="33"/><text class="t" x="112" y="1237">Symbiobacterium</text></g>
<g id="a-aspergillus"><circle class="nf" cx="1033" cy="1271" r="30"/><text class="t" x="965" y="1241">Aspergillus</text></g>
<g id="a-talaromyces"><circle class="nf" cx="570" cy="1318" r="35"/><text class="t" x="427" y="1286">Talaromyces</text></g>
<g id="a-thermoflavimicrobium"><circle class="nb" cx="890" cy="1325" r="30"/><text class="t" x="687" y="1303">Thermoflavimicrobium</text></g>
<g id="a-thermopolyspora"><circle class="nb" cx="730" cy="1341" r="38"/><text class="t" x="603" y="1380">Thermopolyspora</text></g>
</g>
<g id="nodes-b">
<g id="b-longispora"><circle class="nb" cx="2064" cy="203" r="31"/><text class="t" x="1937" y="166">Longispora</text></g>
<g id="b-sbr1031"><circle class="nb" cx="2239" cy="174" r="28"/><text class="t" x="2077" y="123">norank_o__SBR1031</text></g>
<g id="b-limno"><circle class="nb" cx="2399" cy="190" r="28"/><text class="t" x="2305" y="166">norank_f__Limnochordaceae</text></g>
<g id="b-atopostipes"><circle class="nb" cx="2545" cy="242" r="28"/><text class="t" x="2480" y="222">Atopostipes</text></g>
<g id="b-psychrobacter"><circle class="nb" cx="1923" cy="296" r="33"/><text class="t" x="1750" y="255">Psychrobacter</text></g>
<g id="b-corynebacterium"><circle class="nb" cx="2150" cy="352" r="35"/><text class="t" x="1940" y="314">Corynebacterium</text></g>
<g id="b-gemmatimonadetes"><circle class="nb" cx="2335" cy="361" r="28"/><text class="t" x="2238" y="326">Gemmatimonadetes</text></g>
<g id="b-hypocreales"><circle class="nf" cx="2680" cy="343" r="35"/><text class="t" x="2617" y="311">Hypocreales</text></g>
<g id="b-sphaerobacter"><circle class="nb" cx="1813" cy="425" r="32"/><text class="t" x="1663" y="394">Sphaerobacter</text></g>
<g id="b-solibacillus"><circle class="nb" cx="1993" cy="455" r="32"/><text class="t" x="1905" y="427">Solibacillus</text></g>
<g id="b-chaetomiaceae"><circle class="nf" cx="2497" cy="461" r="35"/><text class="t" x="2375" y="427">Chaetomiaceae</text></g>
<g id="b-candida"><circle class="nf" cx="2802" cy="470" r="33"/><text class="t" x="2730" y="429">Candida</text></g>
<g id="b-neurospora"><circle class="nf" cx="2197" cy="484" r="25"/><text class="t" x="2115" y="464">Neurospora</text></g>
<g id="b-zopfiella"><circle class="nf" cx="2650" cy="529" r="30"/><text class="t" x="2557" y="495">Zopfiella</text></g>
<g id="b-planomicrobium"><circle class="nb" cx="1716" cy="578" r="22"/><text class="t" x="1618" y="542">Planomicrobium</text></g>
<g id="b-rhizobiaceae"><circle class="nb" cx="1875" cy="613" r="32"/><text class="t" x="1768" y="582">Rhizobiaceae</text></g>
<g id="b-alternaria"><circle class="ns" cx="2322" cy="566" r="40"/><text class="tB" x="2200" y="531">Alternaria</text></g>
<g id="b-ascomycota"><circle class="nf" cx="2510" cy="604" r="32"/><text class="t" x="2405" y="575">unclassified_</text><text class="t" x="2405" y="622">Ascomycota</text></g>
<g id="b-mycothermus"><circle class="nf" cx="2847" cy="635" r="38"/><text class="t" x="2720" y="601">Mycothermus</text></g>
<g id="b-sporosarcina"><circle class="nb" cx="2092" cy="646" r="33"/><text class="t" x="2000" y="619">Sporosarcina</text></g>
<g id="b-microascus"><circle class="nd" cx="2699" cy="712" r="28"/><text class="t" x="2610" y="692">Microascus</text></g>
<g id="b-mortierella"><circle class="nf" cx="2387" cy="714" r="28"/><text class="t" x="2347" y="685">Mortierella</text></g>
<g id="b-lysinibacillus"><circle class="nl" cx="2228" cy="754" r="49"/><text class="tB" x="2030" y="702">Lysinibacillus</text></g>
<g id="b-acinetobacter"><circle class="nb" cx="1718" cy="754" r="28"/><text class="t" x="1633" y="723">Acinetobacter</text></g>
<g id="b-pseudomonas"><circle class="nb" cx="1887" cy="798" r="28"/><text class="t" x="1743" y="779">Pseudomonas</text></g>
<g id="b-actinomarinales"><circle class="nb" cx="2060" cy="791" r="22"/><text class="t" x="1933" y="830">Actinomarinales</text></g>
<g id="b-myceliophthora"><circle class="nf" cx="2545" cy="791" r="32"/><text class="t" x="2430" y="755">Myceliophthora</text></g>
<g id="b-apiotrichum"><circle class="nf" cx="2847" cy="803" r="32"/><text class="t" x="2737" y="772">Apiotrichum</text></g>
<g id="b-wallemia"><circle class="nf" cx="2413" cy="831" r="32"/><text class="t" x="2363" y="802">Wallemia</text></g>
<g id="b-phialosimplex"><circle class="nf" cx="2714" cy="881" r="22"/><text class="t" x="2590" y="861">Phialosimplex</text></g>
<g id="b-kurthia"><circle class="nb" cx="2137" cy="904" r="28"/><text class="t" x="2115" y="875">Kurthia</text></g>
<g id="b-penicillium"><circle class="ns" cx="2423" cy="921" r="37"/><text class="tB" x="2298" y="894">Penicillium</text></g>
<g id="b-rummelibacillus"><circle class="nb" cx="1737" cy="918" r="29"/><text class="t" x="1547" y="884">Rummelibacillus</text></g>
<g id="b-bacillus"><circle class="nb" cx="1929" cy="939" r="46"/><text class="t" x="1892" y="891">Bacillus</text></g>
<g id="b-sordariomycetes"><circle class="nf" cx="2834" cy="968" r="22"/><text class="t" x="2655" y="945">Sordariomycetes</text></g>
<g id="b-eurotiales"><circle class="nf" cx="2250" cy="1008" r="37"/><text class="t" x="2003" y="981">unclassified_o__Eurotiales</text></g>
<g id="b-aspergillium"><circle class="nf" cx="2557" cy="1036" r="28"/><text class="t" x="2458" y="1007">Aspergillium</text></g>
<g id="b-caldicoprobacter"><circle class="nb" cx="1802" cy="1080" r="25"/><text class="t" x="1618" y="1046">Caldicoprobacter</text></g>
<g id="b-mba03"><circle class="nb" cx="2012" cy="1088" r="29"/><text class="t" x="1800" y="1145">norank_o__MBA03</text></g>
<g id="b-microascaceae"><circle class="nf" cx="2438" cy="1111" r="23"/><text class="t" x="2185" y="1072">unclassified_f__Microascaceae</text></g>
<g id="b-coniolariella"><circle class="nf" cx="2724" cy="1111" r="20"/><text class="t" x="2615" y="1119">Coniolariella</text></g>
<g id="b-acremonium"><circle class="nf" cx="2238" cy="1172" r="22"/><text class="t" x="2157" y="1148">Acremonium</text></g>
<g id="b-thermomyces"><circle class="nf" cx="2417" cy="1214" r="28"/><text class="t" x="2292" y="1192">Thermomyces</text></g>
<g id="b-methylocaldum"><circle class="nb" cx="2000" cy="1219" r="22"/><text class="t" x="1815" y="1197">Methylocaldum</text></g>
<g id="b-aspergillus"><circle class="nf" cx="2517" cy="1294" r="22"/><text class="t" x="2457" y="1258">Aspergillus</text></g>
<g id="b-ascochyta"><circle class="nf" cx="2521" cy="1290" r="22"/><text class="t" x="2457" y="1258">Ascochyta</text></g>
<g id="b-psychrobacillus"><circle class="nb" cx="2227" cy="1312" r="25"/><text class="t" x="2105" y="1284">Psychrobacillus</text></g>
</g>
<g id="legend-a">
<rect x="1170" y="1268" width="278" height="156" fill="#fff" stroke="#333" stroke-width="3"/>
<circle cx="1216" cy="1309" r="23" fill="#e8180a" stroke="#8a1a10" stroke-width="2"/>
<circle cx="1216" cy="1379" r="23" fill="#44aa11" stroke="#2a6a10" stroke-width="2"/>
<text class="tl" x="1265" y="1326">Bacteria</text>
<text class="tl" x="1263" y="1397">Fungi</text>
</g>
<g id="legend-b">
<rect x="2658" y="1283" width="277" height="152" fill="#fff" stroke="#333" stroke-width="3"/>
<circle cx="2704" cy="1322" r="23" fill="#e8180a" stroke="#8a1a10" stroke-width="2"/>
<circle cx="2704" cy="1391" r="23" fill="#44aa11" stroke="#2a6a10" stroke-width="2"/>
<text class="tl" x="2754" y="1338">Bacteria</text>
<text class="tl" x="2750" y="1406">Fungi</text>
</g>
</svg>
